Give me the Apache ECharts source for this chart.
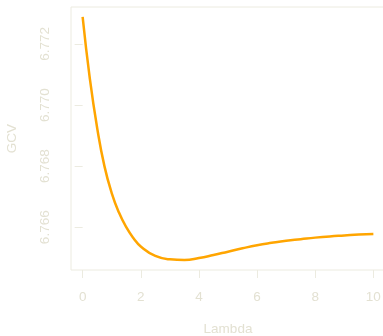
<!DOCTYPE html>
<html>
<head>
<meta charset="utf-8">
<script src="https://cdn.jsdelivr.net/npm/echarts@6/dist/echarts.min.js"></script>
<style>html,body{margin:0;padding:0;background:#fff;}#c{width:383px;height:336px;}</style>
</head>
<body>
<div id="c"></div>
<script>
const lambda = [0, 0.25, 0.5, 0.75, 1, 1.25, 1.5, 1.75, 2, 2.5, 3, 3.5, 4, 4.5, 5, 5.5, 6, 6.5, 7, 7.5, 8, 8.5, 9, 9.5, 10];
const gcv = [6.77289, 6.77085, 6.76925, 6.76800, 6.76712, 6.76648, 6.76600, 6.76564, 6.76537, 6.76506, 6.76495, 6.76493, 6.76499, 6.76509, 6.76520, 6.76531, 6.76541, 6.76549, 6.76556, 6.76561, 6.76566, 6.76570, 6.76573, 6.76576, 6.76578];
const xTicks = [0, 2, 4, 6, 8, 10];
const yTicks = [6.766, 6.768, 6.770, 6.772];

const textColor = '#e3e1d2';
const boxColor = '#ecebe0';
const font = 'Liberation Sans, Arial, sans-serif';

const chart = echarts.init(document.getElementById('c'), null, {renderer: 'canvas'});
chart.setOption({
  animation: false,
  grid: {left: 71, top: 7, width: 314, height: 263, show: true, borderColor: boxColor, borderWidth: 1,
    backgroundColor: 'transparent', containLabel: false, outerBoundsMode: 'none'},
  xAxis: {
    type: 'value', min: -0.4, max: 10.4,
    name: 'Lambda', nameLocation: 'middle', nameGap: 52,
    nameTextStyle: {color: textColor, fontSize: 13.5, fontFamily: font},
    axisLine: {show: false},
    splitLine: {show: false},
    axisTick: {show: true, length: 8, lineStyle: {color: boxColor}, customValues: xTicks},
    axisLabel: {color: textColor, fontSize: 13.5, fontFamily: font, margin: 20, customValues: xTicks}
  },
  yAxis: {
    type: 'value', min: 6.76460, max: 6.77321,
    name: 'GCV', nameLocation: 'middle', nameGap: 52,
    nameTextStyle: {color: textColor, fontSize: 13.5, fontFamily: font},
    axisLine: {show: false},
    splitLine: {show: false},
    axisTick: {show: true, length: 8, lineStyle: {color: boxColor}, customValues: yTicks},
    axisLabel: {color: textColor, fontSize: 13.5, fontFamily: font, margin: 19, rotate: 90, customValues: yTicks,
      formatter: v => v.toFixed(3)}
  },
  series: [{
    type: 'line',
    data: lambda.map((x, i) => [x, gcv[i]]),
    smooth: 0.5,
    showSymbol: false,
    lineStyle: {color: '#ffa500', width: 2.5},
    clip: false
  }]
});
</script>
</body>
</html>
